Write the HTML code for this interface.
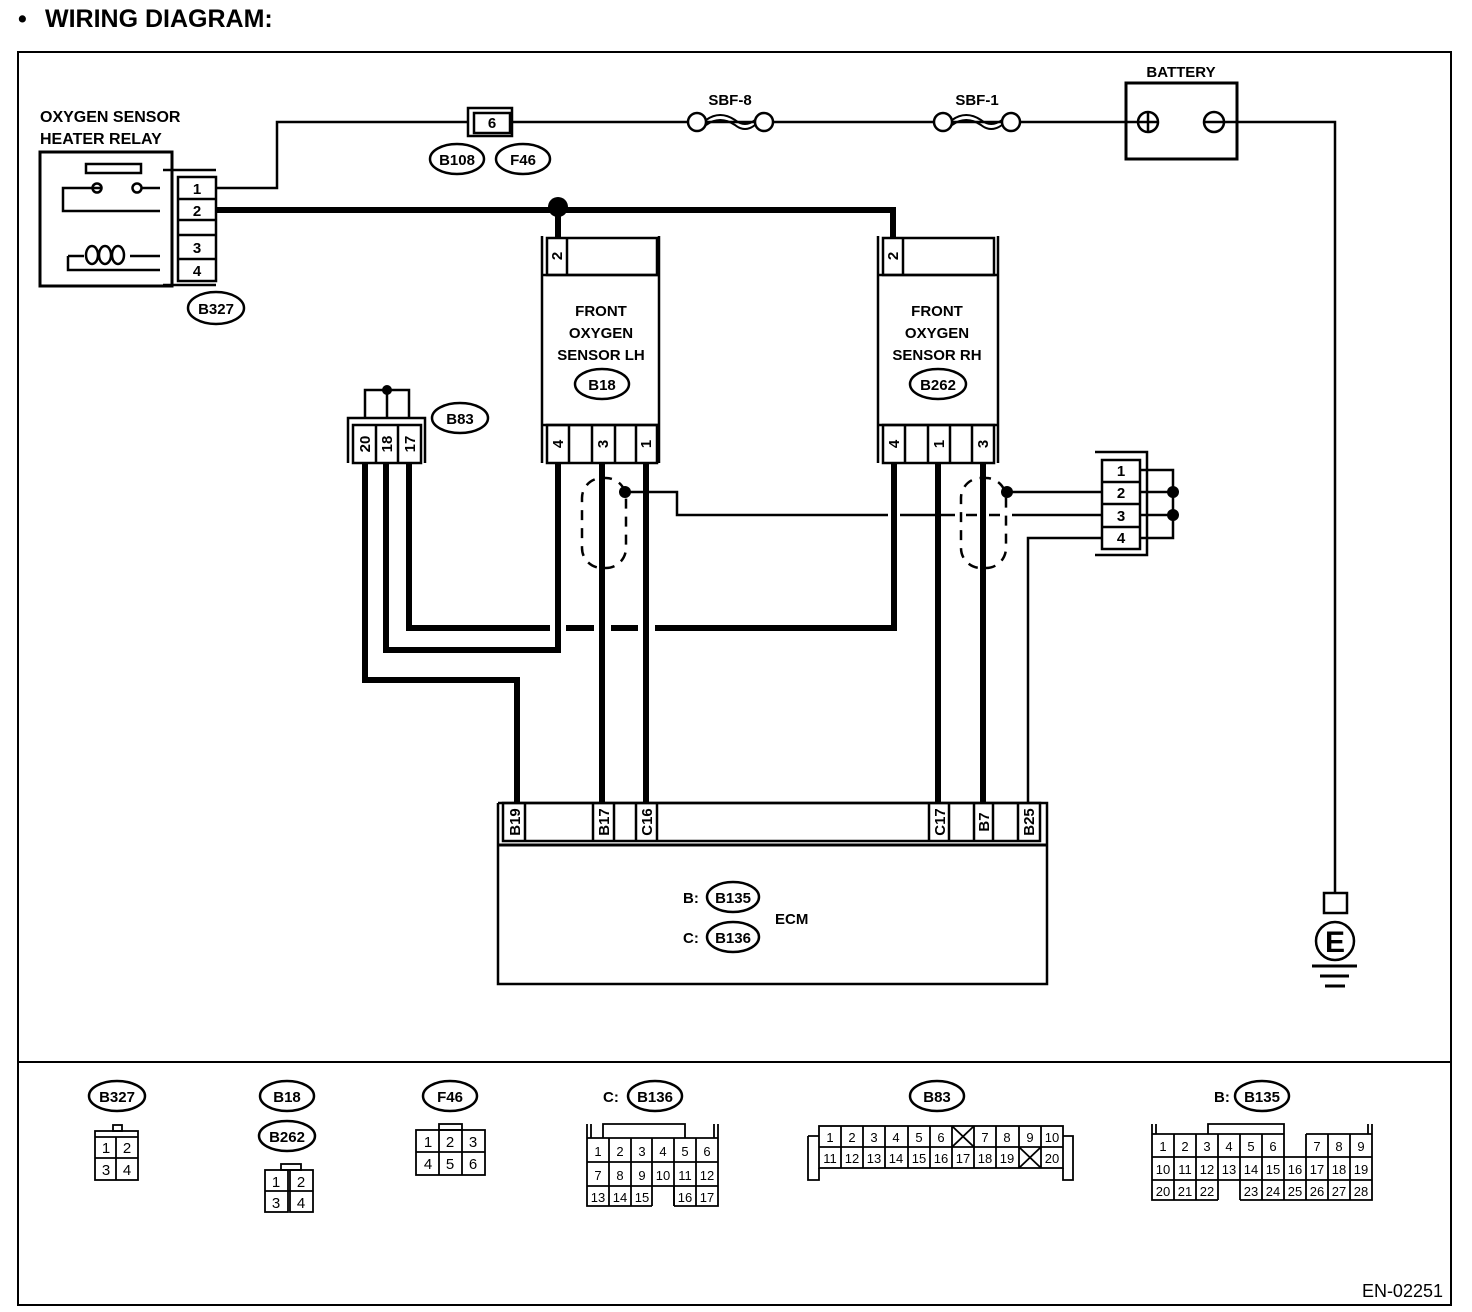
<!DOCTYPE html>
<html><head><meta charset="utf-8"><style>
html,body{margin:0;padding:0;background:#fff;}
svg{display:block;}
text{font-family:"Liberation Sans",sans-serif;fill:#000;}
.b{font-weight:bold;font-size:16px;}
.l{font-weight:bold;font-size:15px;}
.n{font-size:15px;}
</style></head><body>
<svg width="1472" height="1312" viewBox="0 0 1472 1312" xmlns="http://www.w3.org/2000/svg">
<g fill="none" stroke="#000">
<rect x="18" y="52" width="1433" height="1253" stroke-width="2"/>
<line x1="18" y1="1062" x2="1451" y2="1062" stroke-width="2"/>
</g>
<text x="18" y="27" style="font-weight:bold;font-size:25px">•</text>
<text x="45" y="27" style="font-weight:bold;font-size:25px">WIRING DIAGRAM:</text>

<!-- relay -->
<text x="40" y="122" class="b">OXYGEN SENSOR</text>
<text x="40" y="144" class="b">HEATER RELAY</text>
<g fill="none" stroke="#000" stroke-width="3">
<rect x="40" y="152" width="132" height="134"/>
<rect x="86" y="164" width="55" height="9" stroke-width="2.5"/>
<path d="M92 188 H63 V211 H160 M101 188 H93 M141 188 H160" stroke-width="2.5"/>
<circle cx="97" cy="188" r="4.5" stroke-width="2.5"/>
<circle cx="137" cy="188" r="4.5" stroke-width="2.5"/>
<path d="M160 256 H130 M68 256 H84 M68 256 V270 H160" stroke-width="2.5"/>
<ellipse cx="92" cy="255" rx="6" ry="9" stroke-width="2.5"/>
<ellipse cx="105" cy="255" rx="6" ry="9" stroke-width="2.5"/>
<ellipse cx="118" cy="255" rx="6" ry="9" stroke-width="2.5"/>
<rect x="178" y="177" width="38" height="104" stroke-width="2.5"/>
<path d="M178 199 H216 M178 220 H216 M178 235 H216 M178 259 H216" stroke-width="2.5"/>
<path d="M163 170 H216 M163 285 H216 M172 170 V285" stroke-width="2.5"/>
</g>
<text x="197" y="194" class="l" text-anchor="middle">1</text>
<text x="197" y="216" class="l" text-anchor="middle">2</text>
<text x="197" y="253" class="l" text-anchor="middle">3</text>
<text x="197" y="276" class="l" text-anchor="middle">4</text>
<ellipse cx="216" cy="308" rx="28" ry="16" fill="none" stroke="#000" stroke-width="2.5"/>
<text x="216" y="314" class="l" text-anchor="middle">B327</text>

<!-- top power line -->
<g fill="none" stroke="#000" stroke-width="2.5">
<path d="M216 188 H277 V122 H468 M512 122 H688 M706 122 H755 M773 122 H934 M952 122 H1002 M1020 122 H1137 M1224 122 H1335 V893"/>
<rect x="468" y="108" width="44" height="28"/>
<rect x="474" y="113" width="36" height="20"/>
<circle cx="697" cy="122" r="9"/><circle cx="764" cy="122" r="9"/>
<path d="M706 120 Q 720 110 735 120 Q 745 128 755 120 M706 125 Q 720 115 735 125 Q 745 133 755 125" stroke-width="2"/>
<circle cx="943" cy="122" r="9"/><circle cx="1011" cy="122" r="9"/>
<path d="M952 120 Q 966 110 981 120 Q 991 128 1002 120 M952 125 Q 966 115 981 125 Q 991 133 1002 125" stroke-width="2"/>
<rect x="1126" y="83" width="111" height="76" stroke-width="3"/>
<circle cx="1148" cy="122" r="10"/><path d="M1148 113 V131 M1139 122 H1157"/>
<circle cx="1214" cy="122" r="10"/><path d="M1205 122 H1223"/>
<ellipse cx="457" cy="159" rx="27" ry="15"/>
<ellipse cx="523" cy="159" rx="27" ry="15"/>
<rect x="1324" y="893" width="23" height="20"/>
<circle cx="1335" cy="941" r="19"/>
<path d="M1312 966 H1357 M1320 976 H1349 M1325 986 H1345" stroke-width="3"/>
</g>
<text x="492" y="128" class="l" text-anchor="middle">6</text>
<text x="457" y="165" class="l" text-anchor="middle">B108</text>
<text x="523" y="165" class="l" text-anchor="middle">F46</text>
<text x="730" y="105" class="l" text-anchor="middle">SBF-8</text>
<text x="977" y="105" class="l" text-anchor="middle">SBF-1</text>
<text x="1181" y="77" class="l" text-anchor="middle">BATTERY</text>
<text x="1335" y="952" style="font-weight:bold;font-size:30px" text-anchor="middle">E</text>

<!-- thick heater line -->
<g fill="none" stroke="#000" stroke-width="6">
<path d="M216 210 H893 V238"/>
<path d="M558 210 V238"/>
</g>
<circle cx="558" cy="207" r="10" fill="#000"/>

<!-- sensors -->
<g fill="none" stroke="#000" stroke-width="2.5">
<path d="M542 236 V463 M659 236 V463 M542 275 H659 M542 425 H659"/>
<rect x="547" y="238" width="110" height="37"/>
<path d="M567 238 V275"/>
<rect x="547" y="425" width="110" height="38"/>
<path d="M569 425 V463 M592 425 V463 M615 425 V463 M636 425 V463"/>
<ellipse cx="602" cy="384" rx="27" ry="15"/>
<path d="M878 236 V463 M998 236 V463 M878 275 H998 M878 425 H998"/>
<rect x="883" y="238" width="111" height="37"/>
<path d="M903 238 V275"/>
<rect x="883" y="425" width="111" height="38"/>
<path d="M905 425 V463 M928 425 V463 M950 425 V463 M972 425 V463"/>
<ellipse cx="938" cy="384" rx="28" ry="15"/>
</g>
<g class="l" text-anchor="middle">
<text x="601" y="316">FRONT</text><text x="601" y="338">OXYGEN</text><text x="601" y="360">SENSOR LH</text>
<text x="602" y="390">B18</text>
<text x="937" y="316">FRONT</text><text x="937" y="338">OXYGEN</text><text x="937" y="360">SENSOR RH</text>
<text x="938" y="390">B262</text>
</g>
<g class="l" text-anchor="middle">
<text transform="translate(562,256) rotate(-90)">2</text>
<text transform="translate(898,256) rotate(-90)">2</text>
<text transform="translate(563,444) rotate(-90)">4</text>
<text transform="translate(608,444) rotate(-90)">3</text>
<text transform="translate(651,444) rotate(-90)">1</text>
<text transform="translate(899,444) rotate(-90)">4</text>
<text transform="translate(944,444) rotate(-90)">1</text>
<text transform="translate(988,444) rotate(-90)">3</text>
</g>

<!-- B83 -->
<g fill="none" stroke="#000" stroke-width="2.5">
<path d="M348 463 V418 H425 V463"/>
<rect x="353" y="425" width="68" height="38"/>
<path d="M376 425 V463 M398 425 V463"/>
<path d="M365 418 V390 H409 V418 M387 390 V418"/>
<ellipse cx="460" cy="418" rx="28" ry="15"/>
</g>
<circle cx="387" cy="390" r="5" fill="#000"/>
<text x="460" y="424" class="l" text-anchor="middle">B83</text>
<g class="l" text-anchor="middle">
<text transform="translate(370,444) rotate(-90)">20</text>
<text transform="translate(392,444) rotate(-90)">18</text>
<text transform="translate(415,444) rotate(-90)">17</text>
</g>

<!-- thick signal wires -->
<g fill="none" stroke="#000" stroke-width="6">
<path d="M365 463 V680 H517 V803"/>
<path d="M386 463 V650 H558 V463"/>
<path d="M409 463 V628 H550 M566 628 H594 M611 628 H638 M655 628 H894 V463"/>
<path d="M602 463 V803 M646 463 V803 M938 463 V803 M983 463 V803"/>
</g>
<!-- shields -->
<g fill="none" stroke="#000" stroke-width="2.5">
<rect x="582" y="478" width="44" height="90" rx="20" stroke-dasharray="10,8"/>
<rect x="961" y="478" width="45" height="90" rx="20" stroke-dasharray="10,8"/>
<path d="M625 492 H677 V515 H888 M900 515 H955 M966 515 H977 M989 515 H1000 M1012 515 H1102"/>
<path d="M1007 492 H1102 M1028 803 V538 H1102"/>
<path d="M1095 452 H1147 V555 H1095"/>
<rect x="1102" y="460" width="38" height="89"/>
<path d="M1102 482 H1140 M1102 504 H1140 M1102 527 H1140"/>
<path d="M1140 470 H1173 V538 H1140 M1140 492 H1173 M1140 515 H1173"/>
</g>
<circle cx="625" cy="492" r="6" fill="#000"/>
<circle cx="1007" cy="492" r="6" fill="#000"/>
<circle cx="1173" cy="492" r="6" fill="#000"/>
<circle cx="1173" cy="515" r="6" fill="#000"/>
<g class="l" text-anchor="middle">
<text x="1121" y="476">1</text><text x="1121" y="498">2</text><text x="1121" y="521">3</text><text x="1121" y="543">4</text>
</g>

<!-- ECM -->
<g fill="none" stroke="#000" stroke-width="2.5">
<path d="M498 803 V984 H1047 V803 H498"/>
<path d="M498 845 H1047" stroke-width="3"/>
<rect x="503" y="803" width="537" height="38"/>
<path d="M525 803 V841 M593 803 V841 M614 803 V841 M636 803 V841 M657 803 V841 M929 803 V841 M949 803 V841 M974 803 V841 M993 803 V841 M1018 803 V841"/>
<ellipse cx="733" cy="897" rx="26" ry="15"/>
<ellipse cx="733" cy="937" rx="26" ry="15"/>
</g>
<g class="l" text-anchor="middle">
<text transform="translate(520,822) rotate(-90)">B19</text>
<text transform="translate(609,822) rotate(-90)">B17</text>
<text transform="translate(652,822) rotate(-90)">C16</text>
<text transform="translate(945,822) rotate(-90)">C17</text>
<text transform="translate(989,822) rotate(-90)">B7</text>
<text transform="translate(1034,822) rotate(-90)">B25</text>
<text x="733" y="903">B135</text><text x="733" y="943">B136</text>
</g>
<text x="683" y="903" class="l">B:</text>
<text x="683" y="943" class="l">C:</text>
<text x="775" y="924" class="l">ECM</text>

<!-- bottom connectors -->
<g fill="none" stroke="#000" stroke-width="2.5">
<ellipse cx="117" cy="1096" rx="28" ry="15"/>
<ellipse cx="287" cy="1096" rx="27" ry="15"/>
<ellipse cx="287" cy="1136" rx="28" ry="15"/>
<ellipse cx="450" cy="1096" rx="27" ry="15"/>
<ellipse cx="655" cy="1096" rx="27" ry="15"/>
<ellipse cx="937" cy="1096" rx="27" ry="15"/>
<ellipse cx="1262" cy="1096" rx="27" ry="15"/>
</g>
<g class="l" text-anchor="middle">
<text x="117" y="1102">B327</text><text x="287" y="1102">B18</text><text x="287" y="1142">B262</text>
<text x="450" y="1102">F46</text><text x="655" y="1102">B136</text><text x="937" y="1102">B83</text><text x="1262" y="1102">B135</text>
</g>
<text x="603" y="1102" class="l">C:</text>
<text x="1214" y="1102" class="l">B:</text>

<g fill="none" stroke="#000" stroke-width="1.8">
<rect x="95" y="1131" width="43" height="49"/><rect x="113" y="1125" width="9" height="6"/>
<path d="M95 1137 H138 M95 1158 H138 M116 1137 V1180"/>
<rect x="265" y="1170" width="23" height="42"/><rect x="290" y="1170" width="23" height="42"/>
<rect x="281" y="1164" width="20" height="6"/><path d="M265 1191 H313"/>
<rect x="416" y="1130" width="69" height="45"/><rect x="439" y="1124" width="23" height="6"/>
<path d="M416 1152 H485 M439 1130 V1175 M462 1130 V1175"/>
<path d="M587 1124 V1206 H652 M674 1206 H718 V1124 M591 1124 V1138 M714 1124 V1138 M587 1138 H718 M603 1138 V1124 H685 V1138"/>
<path d="M587 1162 H718 M587 1186 H718 M652 1186 V1206 M674 1186 V1206"/>
<path d="M609 1138 V1206 M631 1138 V1206 M652 1138 V1186 M674 1138 V1206 M696 1138 V1206"/>
<rect x="819" y="1126" width="244" height="42"/>
<path d="M819 1147 H1063 M808 1136 H819 M808 1136 V1180 H819 V1168 M1063 1136 H1073 V1180 H1063 V1168"/>
<path d="M841 1126 V1168 M863 1126 V1168 M885 1126 V1168 M908 1126 V1168 M930 1126 V1168 M952 1126 V1168 M974 1126 V1168 M996 1126 V1168 M1019 1126 V1168 M1041 1126 V1168"/>
<path d="M952 1126 L974 1147 M974 1126 L952 1147 M1019 1147 L1041 1168 M1041 1147 L1019 1168"/>
<path d="M1152 1124 V1200 H1218 M1240 1200 H1372 V1124 M1156 1124 V1134 M1368 1124 V1134 M1152 1134 H1284 M1306 1134 H1372 M1208 1134 V1124 H1284 V1134"/>
<path d="M1152 1157 H1372 M1152 1180 H1372 M1218 1180 V1200 M1240 1180 V1200 M1284 1134 V1157 M1306 1134 V1157"/>
<path d="M1174 1134 V1200 M1196 1134 V1200 M1218 1134 V1180 M1240 1134 V1180 M1262 1134 V1200 M1284 1157 V1200 M1306 1157 V1200 M1328 1134 V1200 M1350 1134 V1200"/>
</g>
<g class="n" text-anchor="middle">
<text x="106" y="1153">1</text><text x="127" y="1153">2</text><text x="106" y="1175">3</text><text x="127" y="1175">4</text>
<text x="276" y="1187">1</text><text x="301" y="1187">2</text><text x="276" y="1208">3</text><text x="301" y="1208">4</text>
<text x="428" y="1147">1</text><text x="450" y="1147">2</text><text x="473" y="1147">3</text>
<text x="428" y="1169">4</text><text x="450" y="1169">5</text><text x="473" y="1169">6</text>
</g>
<g class="n" text-anchor="middle" style="font-size:13px">
<text x="598" y="1156">1</text><text x="620" y="1156">2</text><text x="642" y="1156">3</text><text x="663" y="1156">4</text><text x="685" y="1156">5</text><text x="707" y="1156">6</text>
<text x="598" y="1180">7</text><text x="620" y="1180">8</text><text x="642" y="1180">9</text><text x="663" y="1180">10</text><text x="685" y="1180">11</text><text x="707" y="1180">12</text>
<text x="598" y="1202">13</text><text x="620" y="1202">14</text><text x="642" y="1202">15</text><text x="685" y="1202">16</text><text x="707" y="1202">17</text>
<text x="830" y="1142">1</text><text x="852" y="1142">2</text><text x="874" y="1142">3</text><text x="896" y="1142">4</text><text x="919" y="1142">5</text><text x="941" y="1142">6</text><text x="985" y="1142">7</text><text x="1007" y="1142">8</text><text x="1030" y="1142">9</text><text x="1052" y="1142">10</text>
<text x="830" y="1163">11</text><text x="852" y="1163">12</text><text x="874" y="1163">13</text><text x="896" y="1163">14</text><text x="919" y="1163">15</text><text x="941" y="1163">16</text><text x="963" y="1163">17</text><text x="985" y="1163">18</text><text x="1007" y="1163">19</text><text x="1052" y="1163">20</text>
<text x="1163" y="1151">1</text><text x="1185" y="1151">2</text><text x="1207" y="1151">3</text><text x="1229" y="1151">4</text><text x="1251" y="1151">5</text><text x="1273" y="1151">6</text><text x="1317" y="1151">7</text><text x="1339" y="1151">8</text><text x="1361" y="1151">9</text>
<text x="1163" y="1174">10</text><text x="1185" y="1174">11</text><text x="1207" y="1174">12</text><text x="1229" y="1174">13</text><text x="1251" y="1174">14</text><text x="1273" y="1174">15</text><text x="1295" y="1174">16</text><text x="1317" y="1174">17</text><text x="1339" y="1174">18</text><text x="1361" y="1174">19</text>
<text x="1163" y="1196">20</text><text x="1185" y="1196">21</text><text x="1207" y="1196">22</text><text x="1251" y="1196">23</text><text x="1273" y="1196">24</text><text x="1295" y="1196">25</text><text x="1317" y="1196">26</text><text x="1339" y="1196">27</text><text x="1361" y="1196">28</text>
</g>
<text x="1443" y="1297" text-anchor="end" style="font-size:18px">EN-02251</text>
</svg>
</body></html>
